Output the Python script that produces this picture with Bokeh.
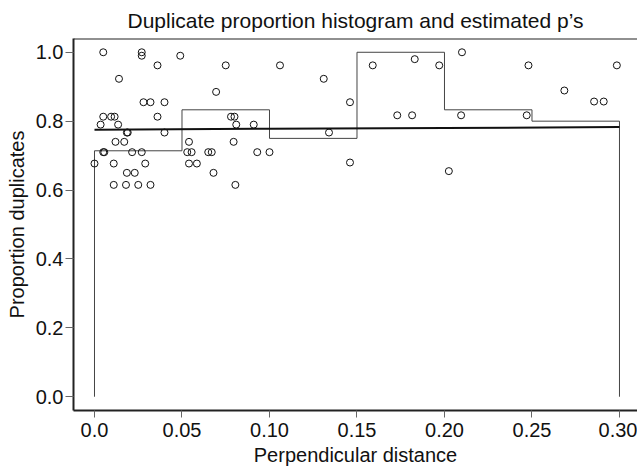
from bokeh.plotting import figure
from bokeh.models import Range1d, Span, FixedTicker
from bokeh.embed import file_html
from bokeh.resources import INLINE

# ---- data ----
bin_edges = [0.0, 0.05, 0.10, 0.15, 0.20, 0.25, 0.30]
bin_props = [0.714, 0.833, 0.75, 1.0, 0.833, 0.80]

fit_x = [0.0, 0.10, 0.20, 0.30]
fit_p = [0.775, 0.778, 0.780, 0.783]

pt_dist = [0.005, 0.027, 0.027, 0.049, 0.036, 0.014, 0.028, 0.032, 0.040, 0.005,
           0.0095, 0.0115, 0.036, 0.0035, 0.0135, 0.0185, 0.019, 0.040, 0.012, 0.017,
           0.005, 0.0056, 0.0215, 0.027, 0.0, 0.011, 0.029, 0.054, 0.053, 0.0555,
           0.065, 0.067, 0.054, 0.0585, 0.0185, 0.023, 0.068, 0.011, 0.018, 0.025,
           0.032, 0.0805, 0.075, 0.106, 0.131, 0.0695, 0.146, 0.078, 0.080, 0.081,
           0.091, 0.134, 0.0795, 0.093, 0.100, 0.146, 0.159, 0.183, 0.197, 0.210,
           0.173, 0.1815, 0.2095, 0.2025, 0.248, 0.2985, 0.2685, 0.2855, 0.291, 0.247]
pt_prop = [1.0, 1.0, 0.99, 0.99, 0.962, 0.923, 0.855, 0.855, 0.855, 0.813,
           0.813, 0.813, 0.813, 0.79, 0.79, 0.767, 0.767, 0.767, 0.74, 0.74,
           0.71, 0.71, 0.71, 0.71, 0.677, 0.677, 0.677, 0.74, 0.71, 0.71,
           0.71, 0.71, 0.677, 0.677, 0.65, 0.65, 0.65, 0.615, 0.615, 0.615,
           0.615, 0.615, 0.962, 0.962, 0.923, 0.885, 0.855, 0.813, 0.813, 0.79,
           0.79, 0.767, 0.74, 0.71, 0.71, 0.68, 0.962, 0.98, 0.962, 1.0,
           0.817, 0.817, 0.817, 0.655, 0.962, 0.962, 0.889, 0.857, 0.857, 0.817]

x_ticks = [0.0, 0.05, 0.10, 0.15, 0.20, 0.25, 0.30]
x_tick_labels = ["0.0", "0.05", "0.10", "0.15", "0.20", "0.25", "0.30"]
y_ticks = [0.0, 0.2, 0.4, 0.6, 0.8, 1.0]
y_tick_labels = ["0.0", "0.2", "0.4", "0.6", "0.8", "1.0"]

title_text = "Duplicate proportion histogram and estimated p\u2019s"
x_title = "Perpendicular distance"
y_title = "Proportion duplicates"

FONT = "Liberation Sans"

p = figure(width=637, height=470, output_backend="svg", toolbar_location=None,
           x_range=Range1d(-0.012, 0.3103), y_range=Range1d(-0.04, 1.04),
           title=title_text)
p.min_border_left = 73
p.min_border_right = 0
p.min_border_top = 38
p.min_border_bottom = 60
p.outline_line_color = None
p.background_fill_color = "white"
p.border_fill_color = "white"

p.title.align = "center"
p.title.text_font = FONT
p.title.text_font_size = "21px"
p.title.text_font_style = "normal"
p.title.text_color = "#111111"
p.title.standoff = 13

p.xgrid.visible = False
p.ygrid.visible = False

for ax in (p.xaxis[0], p.yaxis[0]):
    ax.axis_line_width = 2
    ax.axis_line_color = "#222222"
    ax.major_tick_line_color = "#666666"
    ax.major_tick_line_width = 1
    ax.major_tick_in = 0
    ax.minor_tick_line_color = None
    ax.major_label_text_font = FONT
    ax.major_label_text_font_size = "20px"
    ax.major_label_text_color = "#111111"
    ax.axis_label_text_font = FONT
    ax.axis_label_text_font_size = "20px"
    ax.axis_label_text_font_style = "normal"
    ax.axis_label_text_color = "#111111"

p.xaxis.ticker = FixedTicker(ticks=x_ticks)
p.xaxis.major_label_overrides = {t: l for t, l in zip(x_ticks, x_tick_labels)}
p.xaxis.major_tick_out = 7
p.xaxis.major_label_standoff = 5
p.xaxis.axis_label = x_title
p.xaxis.axis_label_standoff = 4

p.yaxis.ticker = FixedTicker(ticks=y_ticks)
p.yaxis.major_label_overrides = {t: l for t, l in zip(y_ticks, y_tick_labels)}
p.yaxis.major_tick_out = 8
p.yaxis.major_label_standoff = 2
p.yaxis.axis_label = y_title
p.yaxis.axis_label_standoff = 5

# top frame line
p.add_layout(Span(location=1.04, dimension="width", line_color="#222222", line_width=2))

# histogram outline
hx = [bin_edges[0]]
hy = [0.0]
for i, h in enumerate(bin_props):
    hx += [bin_edges[i], bin_edges[i + 1]]
    hy += [h, h]
hx.append(bin_edges[-1])
hy.append(0.0)
p.line(hx, hy, line_color="#444444", line_width=1)

# fitted p line
p.line(fit_x, fit_p, line_color="#111111", line_width=2)

# observed proportions
p.scatter(pt_dist, pt_prop, marker="circle", size=7, fill_color=None,
          line_color="#111111", line_width=1)

open("out.html", "w").write(file_html(p, INLINE))
